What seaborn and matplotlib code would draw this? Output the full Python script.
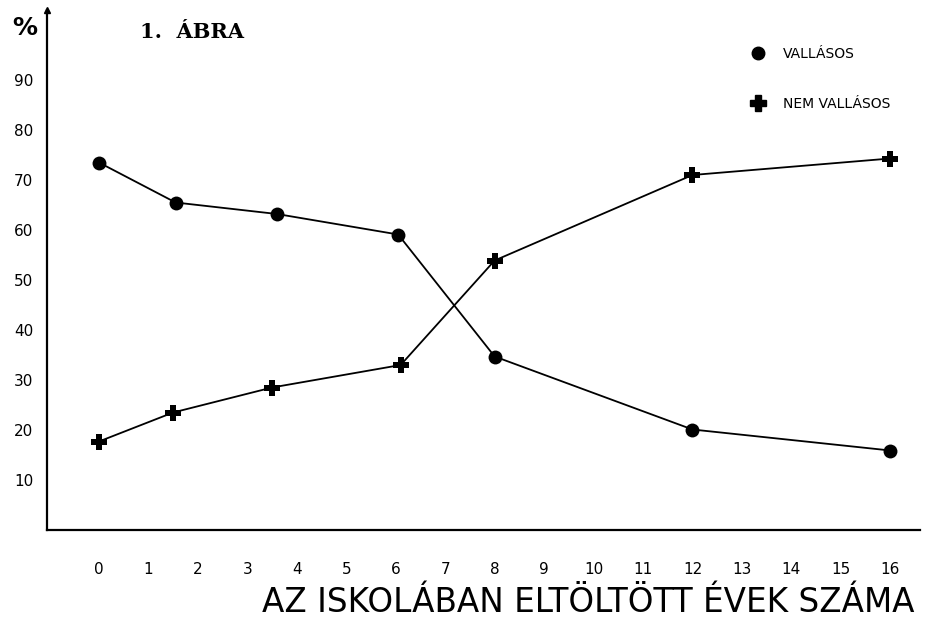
import pandas as pd
import seaborn as sns
import matplotlib.pyplot as plt
from matplotlib.lines import Line2D

# years spent in school vs. share (%) of religious / non-religious
years_vallasos = [0, 1.55, 3.6, 6.05, 8, 12, 16]
vallasos = [73.5, 65.5, 63.2, 59.1, 34.7, 20.1, 15.9]
years_nem = [0, 1.5, 3.5, 6.1, 8, 12, 16]
nem_vallasos = [17.7, 23.5, 28.5, 33.0, 53.9, 71.0, 74.3]

x_ticks = list(range(0, 17))
y_ticks = [10, 20, 30, 40, 50, 60, 70, 80, 90]

df_v = pd.DataFrame({"ev": years_vallasos, "szazalek": vallasos})
df_n = pd.DataFrame({"ev": years_nem, "szazalek": nem_vallasos})

sns.set_style("white")
plt.rcParams["font.family"] = ["DejaVu Sans"]
plt.rcParams["text.color"] = "black"

fig = plt.figure(figsize=(9.31, 6.19), dpi=100)
ax = fig.add_axes([47 / 931, 89 / 619, 873 / 931, 520 / 619])

sns.lineplot(data=df_v, x="ev", y="szazalek", ax=ax, color="black",
             linewidth=1.3, marker="o", markersize=10, markeredgewidth=0)
sns.lineplot(data=df_n, x="ev", y="szazalek", ax=ax, color="black",
             linewidth=1.3, marker="P", markersize=12, markeredgewidth=0)

ax.set_xlim(-1.05, 16.6)
ax.set_ylim(0, 104)
for s in ["top", "right"]:
    ax.spines[s].set_visible(False)
for s in ["left", "bottom"]:
    ax.spines[s].set_linewidth(1.6)
    ax.spines[s].set_color("black")

ax.set_xticks(x_ticks)
ax.set_yticks(y_ticks)
ax.tick_params(axis="both", direction="inout", length=8, width=1, colors="black",
               labelsize=11)
ax.tick_params(axis="x", pad=19)
ax.tick_params(axis="y", pad=6)
ax.set_xlabel("")
ax.set_ylabel("")

# arrow on y axis
ax.plot(0, 1, marker="^", color="black", markersize=5, transform=ax.transAxes,
        clip_on=False)

fig.text(12 / 931, 1 - 28 / 619, "%", fontsize=18, fontweight="bold",
         ha="left", va="center", color="black")
fig.text(140 / 931, 1 - 32 / 619, "1.  ÁBRA", fontsize=15, fontweight="bold",
         family="DejaVu Serif", ha="left", va="center", color="black")
fig.text(915 / 931, 1 - 603 / 619, "AZ ISKOLÁBAN ELTÖLTÖTT ÉVEK SZÁMA",
         fontsize=23.5, ha="right", va="center", color="black")

handles = [
    Line2D([], [], color="black", marker="o", linestyle="none", markersize=9),
    Line2D([], [], color="black", marker="P", linestyle="none", markersize=11),
]
leg = fig.legend(handles, ["VALLÁSOS", "NEM VALLÁSOS"], loc="upper left",
                 bbox_to_anchor=(744 / 931, 1 - 40 / 619), frameon=False,
                 fontsize=10, labelspacing=2.6, handlelength=1,
                 handletextpad=1.3, borderpad=0)
for t in leg.get_texts():
    t.set_color("black")

fig.savefig("out.png", dpi=100)
